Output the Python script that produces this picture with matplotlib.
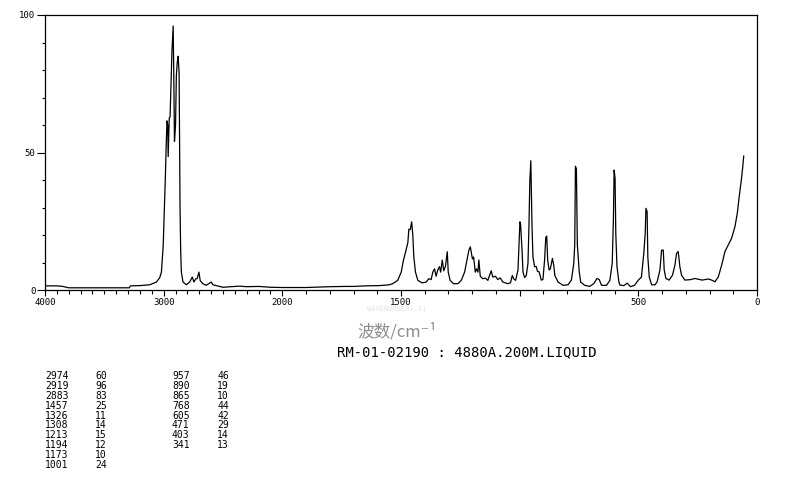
import numpy as np
import matplotlib
matplotlib.use("Agg")
import matplotlib.pyplot as plt

# Raman spectrum (wavenumber in cm-1, relative intensity)
wn_ch = [4000, 3900, 3850, 3800, 3600, 3400, 3290, 3280, 3200, 3117, 3061, 3033,
         3019, 3004, 2996, 2985, 2977, 2972, 2966, 2962, 2958, 2953, 2946, 2940,
         2930, 2920, 2915, 2909, 2900, 2893, 2885, 2878, 2870, 2866, 2862, 2857,
         2851, 2837, 2809, 2781, 2759, 2745, 2731, 2717, 2703, 2692, 2670, 2642,
         2599, 2585, 2501, 2361, 2300, 2200, 2100]
int_ch = [1.5, 1.5, 1.3, 0.8, 0.8, 0.8, 0.8, 1.5, 1.6, 1.9, 2.9, 4.5,
          6.5, 16, 27, 42, 55, 61.5, 60, 48.5, 55, 62.5, 63, 72,
          87, 96, 79, 54, 60, 78, 83, 85, 79, 55, 30, 15,
          6.5, 2.9, 1.9, 2.9, 4.7, 2.9, 4.0, 4.2, 6.5, 3.4, 2.3, 1.7,
          2.9, 1.9, 1.0, 1.4, 1.2, 1.3, 1.0]

wn_mid = [2000, 1900, 1800, 1735, 1700, 1650, 1591, 1549, 1535, 1514, 1499, 1490,
          1481, 1471, 1467, 1461, 1455, 1450, 1446, 1439, 1429, 1411, 1394, 1383,
          1373, 1366, 1359, 1352, 1345, 1338, 1333, 1326, 1320, 1313, 1305, 1301,
          1293, 1279, 1260, 1246, 1232, 1222, 1214, 1208, 1199, 1194, 1187, 1182,
          1176, 1172, 1166, 1155, 1144, 1134, 1120, 1113, 1102, 1092, 1082, 1071,
          1050]
int_mid = [0.9, 0.9, 1.2, 1.3, 1.3, 1.5, 1.6, 1.9, 2.3, 3.5, 6.5, 10.7,
           13.7, 17.3, 22.1, 22, 24.8, 19.6, 12, 6.5, 3.5, 2.6, 2.9, 4.1,
           3.8, 6.5, 7.7, 5, 7.3, 8.5, 6.5, 10.9, 7, 8.5, 13.9, 6.5,
           3.5, 2.3, 2.3, 3.5, 6.5, 10.9, 14.5, 15.7, 11.3, 12, 6.5, 7.7,
           6.5, 10.9, 5, 4.1, 4.3, 3.5, 7, 4.7, 5, 3.8, 4.4, 2.9,
           2.3]

wn_low = [1039, 1031, 1025, 1017, 1007, 1003, 999, 996, 990, 986, 979, 972,
          965, 961, 957, 953, 948, 944, 937, 930, 925, 918, 909, 902,
          895, 890, 886, 882, 876, 871, 862, 856, 852, 838, 817, 796,
          782, 772, 768, 765, 761, 757, 749, 743, 726, 705, 688, 674,
          665, 655, 634, 620, 610, 605, 602, 598, 595, 590, 582, 578,
          561, 547]
int_low = [2.6, 5.3, 4, 3.5, 7.3, 16.4, 24.8, 23.8, 14.5, 6.5, 4.5, 5.3,
           9.7, 23, 40, 47, 23, 12, 8.5, 8.5, 6.8, 6.6, 3.6, 3.8,
           10.9, 19.1, 19.6, 10.9, 7.3, 7.6, 11.5, 8.8, 5.3, 2.9, 1.7, 1.9,
           3.6, 9.7, 16.4, 45, 44, 16.4, 6.6, 2.9, 1.7, 1.3, 2.3, 4.2,
           3.8, 1.7, 1.7, 3.5, 9.7, 26, 43.6, 40.6, 20.6, 8.5, 3, 1.8,
           1.6, 2.5]

wn_far = [533, 516, 501, 487, 477, 471, 468, 463, 460, 454, 444, 430,
          421, 409, 402, 395, 391, 384, 370, 356, 346, 339, 332, 325,
          318, 304, 278, 262, 231, 205, 191, 177, 163, 149, 135, 121,
          107, 93, 83, 75, 66, 60, 56]
int_far = [1.2, 1.7, 3.5, 4.7, 13.3, 20.6, 29.7, 28.5, 12, 4.7, 1.9, 1.9,
           2.9, 7.3, 14.5, 14.5, 7.3, 4.2, 3.6, 5.4, 9, 13.3, 14, 8.5,
           5.4, 3.6, 3.8, 4.2, 3.6, 4, 3.6, 3, 4.8, 9, 14, 16.4,
           18.8, 23, 27.9, 34, 40, 44.8, 48.7]

# peak table
peaks_a = ["2974", "2919", "2883", "1457", "1326", "1308", "1213", "1194", "1173", "1001"]
inten_a = ["60", "96", "83", "25", "11", "14", "15", "12", "10", "24"]
peaks_b = ["957", "890", "865", "768", "605", "471", "403", "341"]
inten_b = ["46", "19", "10", "44", "42", "29", "14", "13"]

wn = np.array(wn_ch + wn_mid + wn_low + wn_far, dtype=float)
inten = np.array(int_ch + int_mid + int_low + int_far, dtype=float)


def fwd(x):
    # scale is halved above 2000 cm-1
    x = np.asarray(x, dtype=float)
    return np.where(x > 2000, 2000 + (x - 2000) / 2.0, x)


def inv(u):
    u = np.asarray(u, dtype=float)
    return np.where(u > 2000, 2000 + (u - 2000) * 2.0, u)


W, H = 794, 482
fig = plt.figure(figsize=(W / 100, H / 100), dpi=100)
ax = fig.add_axes([45 / W, 1 - 290 / H, (757 - 45) / W, (290 - 15) / H])

ax.plot(wn, inten, color="black", lw=0.9)

ax.set_xscale("function", functions=(fwd, inv))
ax.set_xlim(4000, 0)
ax.set_ylim(0, 100)

mono = "DejaVu Sans Mono"
ax.set_xticks([4000, 3000, 2000, 1500, 1000, 500, 0])
ax.set_xticklabels(["4000", "3000", "2000", "1500", "", "500", "0"], family=mono, fontsize=6.5)
minor_x = [w for w in range(100, 4000, 100) if w not in (4000, 3000, 2000, 1500, 1000, 500)]
ax.set_xticks(minor_x, minor=True)
ax.set_yticks([0, 50, 100])
ax.set_yticklabels(["0", "50", "100"], family=mono, fontsize=6.5)
ax.set_yticks(range(10, 100, 10), minor=True)

ax.tick_params(axis="x", which="major", length=4, width=0.8, pad=2, direction="out")
ax.tick_params(axis="x", which="minor", length=3, width=0.8, direction="out")
ax.tick_params(axis="y", which="major", length=5.5, width=0.8, pad=1.5, direction="out")
ax.tick_params(axis="y", which="minor", length=2.2, width=0.8, direction="out")
for s in ax.spines.values():
    s.set_linewidth(0.9)

# labels under the axis
fig.text(397 / W, 1 - 309 / H, "WAVENUMBER(-1)", family=mono, fontsize=5,
         color="#e2e2e2", ha="center", va="center")
fig.text(397 / W, 1 - 332 / H, "波数/cm⁻¹", family=["Noto Sans CJK SC", "DejaVu Sans"],
         fontsize=12, color="#8c8c8c", ha="center", va="center")
fig.text(337 / W, 1 - 352 / H, "RM-01-02190 : 4880A.200M.LIQUID", family=mono,
         fontsize=10, ha="left", va="center")

for i, (p, v) in enumerate(zip(peaks_a, inten_a)):
    y = 1 - (376 + 9.9 * i) / H
    fig.text(45 / W, y, p, family=mono, fontsize=7, va="center")
    fig.text(95 / W, y, v, family=mono, fontsize=7, va="center")
for i, (p, v) in enumerate(zip(peaks_b, inten_b)):
    y = 1 - (376 + 9.9 * i) / H
    fig.text(172 / W, y, p, family=mono, fontsize=7, va="center")
    fig.text(217 / W, y, v, family=mono, fontsize=7, va="center")

fig.savefig("out.png", dpi=100)
